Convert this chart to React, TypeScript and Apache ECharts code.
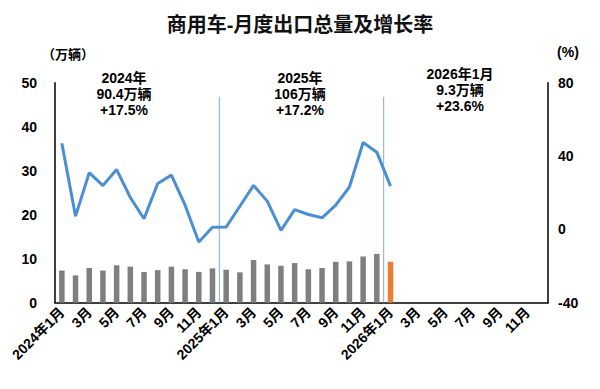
import React, { useEffect, useRef } from "react";
import * as echarts from "echarts";

const categories = [
  "2024年1月", "2月", "3月", "4月", "5月", "6月", "7月", "8月", "9月", "10月", "11月", "12月",
  "2025年1月", "2月", "3月", "4月", "5月", "6月", "7月", "8月", "9月", "10月", "11月", "12月",
  "2026年1月", "2月", "3月", "4月", "5月", "6月", "7月", "8月", "9月", "10月", "11月", "12月",
];

// 月度出口量（万辆）
const exportVolume = [
  7.3, 6.2, 7.9, 7.3, 8.5, 8.2, 7.0, 7.4, 8.2, 7.6, 7.0, 7.8,
  7.5, 6.9, 9.7, 8.7, 8.4, 9.0, 7.6, 7.9, 9.3, 9.4, 10.5, 11.1,
  9.3,
];

// 同比增长率（%）
const growthRate = [
  47.0, 7.2, 30.9, 23.9, 32.6, 17.4, 5.8, 25.0, 29.6, 13.2, -6.9, 1.1,
  1.3, 12.6, 24.0, 15.4, -0.6, 10.8, 8.1, 6.3, 13.2, 23.1, 47.4, 42.1,
  23.6,
];

const yearDividers = [12, 24];
const dividerTop = 46.8;

const leftTicks = { min: 0, max: 50, interval: 10 };
const rightTicks = { min: -40, max: 80, interval: 40 };

const annotations = [
  { x: 124, y: 70, lines: ["2024年", "90.4万辆", "+17.5%"] },
  { x: 300, y: 70, lines: ["2025年", "106万辆", "+17.2%"] },
  { x: 460, y: 66, lines: ["2026年1月", "9.3万辆", "+23.6%"] },
];

const FONT = "'Liberation Sans', 'Noto Sans CJK SC', sans-serif";

export default function App() {
  const ref = useRef<HTMLDivElement>(null);

  useEffect(() => {
    if (!ref.current) return;
    const chart = echarts.init(ref.current, null, { renderer: "svg" });
    const lastIdx = exportVolume.length - 1;
    const barData = categories.map((_, i) =>
      i < exportVolume.length
        ? {
            value: exportVolume[i],
            itemStyle: { color: i === lastIdx ? "#ED7D31" : "#7F7F7F" },
          }
        : "-"
    );
    const lineData = categories.map((_, i) => (i < growthRate.length ? growthRate[i] : "-"));

    const dividerSeries = yearDividers.map((d) => ({
      type: "line",
      xAxisIndex: 1,
      yAxisIndex: 0,
      data: [
        [d, dividerTop],
        [d, 0],
      ],
      symbol: "none",
      lineStyle: { color: "#7FB0E0", width: 1 },
      silent: true,
      z: 1,
    }));

    chart.setOption({
      animation: false,
      backgroundColor: "#FFFFFF",
      textStyle: { fontFamily: FONT },
      title: {
        text: "商用车-月度出口总量及增长率",
        left: "center",
        top: 10,
        textStyle: { fontSize: 20, fontWeight: "bold", color: "#111", fontFamily: FONT },
      },
      grid: { left: 55, right: 52, top: 82.7, bottom: 86.3 },
      xAxis: [
        {
          type: "category",
          data: categories,
          boundaryGap: true,
          axisLine: { show: true, lineStyle: { color: "#000", width: 1.5 } },
          axisTick: { show: false },
          axisLabel: {
            interval: 1,
            rotate: 45,
            margin: 7,
            color: "#000",
            fontSize: 14,
            fontWeight: "bold",
            fontFamily: FONT,
          },
        },
        {
          type: "value",
          min: 0,
          max: 36,
          show: false,
        },
      ],
      yAxis: [
        {
          type: "value",
          min: leftTicks.min,
          max: leftTicks.max,
          interval: leftTicks.interval,
          name: "（万辆）",
          nameLocation: "end",
          nameGap: 22,
          nameTextStyle: { color: "#000", fontSize: 13, fontWeight: "bold", align: "center", padding: [0, 0, 0, 26] },
          axisLine: { show: true, lineStyle: { color: "#000", width: 1.5 } },
          axisTick: { show: false },
          splitLine: { show: false },
          axisLabel: { color: "#000", fontSize: 14, fontWeight: "bold", margin: 18, fontFamily: FONT },
        },
        {
          type: "value",
          min: rightTicks.min,
          max: rightTicks.max,
          interval: rightTicks.interval,
          name: "(%)",
          nameLocation: "end",
          nameGap: 24,
          nameTextStyle: { color: "#000", fontSize: 14, fontWeight: "bold", align: "center", padding: [0, 0, 0, 40] },
          position: "right",
          axisLine: { show: true, lineStyle: { color: "#000", width: 1.5 } },
          axisTick: { show: false },
          splitLine: { show: false },
          axisLabel: { color: "#000", fontSize: 14, fontWeight: "bold", margin: 10, fontFamily: FONT },
        },
      ],
      graphic: annotations.map((a) => ({
        type: "text",
        x: a.x,
        y: a.y,
        style: {
          text: a.lines.join("\n"),
          textAlign: "center",
          textVerticalAlign: "top",
          fill: "#000",
          font: `bold 14px ${FONT}`,
          lineHeight: 16,
        },
        z: 10,
      })),
      series: [
        {
          type: "bar",
          name: "出口量",
          data: barData,
          barWidth: 5.5,
          yAxisIndex: 0,
          z: 2,
        },
        {
          type: "line",
          name: "增长率",
          data: lineData,
          yAxisIndex: 1,
          symbol: "none",
          lineStyle: { color: "#4A8FD3", width: 3 },
          z: 3,
        },
        ...dividerSeries,
      ],
    });
    return () => chart.dispose();
  }, []);

  return (
    <div
      ref={ref}
      style={{ position: "fixed", left: 0, top: 0, width: 600, height: 389 }}
    />
  );
}
